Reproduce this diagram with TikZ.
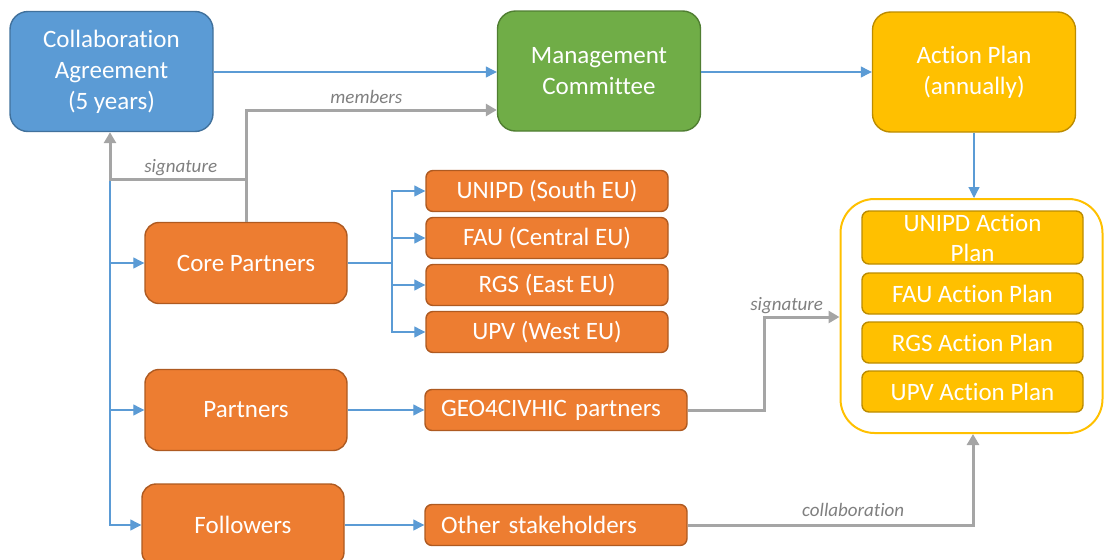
\documentclass[tikz,border=0pt]{standalone}
\usepackage{fontspec}
\setmainfont{Carlito}[Ligatures=NoCommon]
\usetikzlibrary{arrows.meta,calc}
\definecolor{cblue}{HTML}{5B9BD5}
\definecolor{cbluedark}{HTML}{41719C}
\definecolor{cgreen}{HTML}{70AD47}
\definecolor{cgreendark}{HTML}{507E32}
\definecolor{cyellow}{HTML}{FFC000}
\definecolor{cyellowdark}{HTML}{BC8C00}
\definecolor{corange}{HTML}{ED7D31}
\definecolor{corangedark}{HTML}{AE5A21}
\definecolor{cgray}{HTML}{A5A5A5}
\definecolor{clabel}{HTML}{7F7F7F}
\tikzset{
  box/.style={draw,line width=1.4pt,text=white,inner sep=0pt,align=center,
    font=\fontsize{25}{31}\selectfont},
  bigbox/.style={box,minimum width=203pt,minimum height=120pt,rounded corners=18pt},
  midbox/.style={box,minimum width=202pt,minimum height=81pt,rounded corners=14pt},
  subbox/.style={box,minimum width=242pt,minimum height=41pt,rounded corners=7pt},
  planbox/.style={box,minimum width=221pt,minimum height=41pt,rounded corners=7pt,
    fill=cyellow,draw=cyellowdark},
  bluefill/.style={fill=cblue,draw=cbluedark},
  greenfill/.style={fill=cgreen,draw=cgreendark},
  yellowfill/.style={fill=cyellow,draw=cyellowdark},
  orangefill/.style={fill=corange,draw=corangedark},
  link/.style={draw=cblue,line width=1.2pt,-{Triangle[length=11pt,width=11pt]}},
  flow/.style={draw=cgray,line width=3pt,-{Triangle[length=11pt,width=12pt]}},
  lbl/.style={text=clabel,font=\fontsize{19}{22}\selectfont\itshape,inner sep=2pt}
}
\begin{document}
\begin{tikzpicture}[x=1pt,y=-1pt,line cap=butt,line join=miter]
  \useasboundingbox (0,0) rectangle (1104,560);

  % top row
  \node[bigbox,bluefill] (CA) at (111.5,71.5) {Collaboration\\Agreement\\(5 years)};
  \node[bigbox,greenfill] (MC) at (599,71) {Management\\Committee};
  \node[bigbox,yellowfill] (AP) at (974,72) {Action Plan\\(annually)};

  % partner groups
  \node[midbox,orangefill] (core) at (246,263) {Core Partners};
  \node[midbox,orangefill] (partners) at (246,410) {Partners};
  \node[midbox,orangefill,minimum height=82pt] (followers) at (243,525) {Followers};

  \node[subbox,orangefill] (unipd) at (547,191) {UNIPD (South EU)};
  \node[subbox,orangefill] (fau) at (547,238) {FAU (Central EU)};
  \node[subbox,orangefill] (rgs) at (547,285) {RGS (East EU)};
  \node[subbox,orangefill] (upv) at (547,332) {UPV (West EU)};
  \node[subbox,orangefill,minimum width=262pt,text width=230pt,align=left] (geo) at (556,410) {GEO4CIVHIC partners};
  \node[subbox,orangefill,minimum width=262pt,text width=230pt,align=left] (other) at (556,525) {Other stakeholders};

  % action plans
  \node[draw=cyellow,line width=2pt,rounded corners=34pt,minimum width=262pt,minimum height=234pt] (plans) at (971.5,316) {};
  \node[planbox,minimum height=53pt,font=\fontsize{25}{30}\selectfont] (unipdplan) at (972.5,237.5) {UNIPD Action\\Plan};
  \node[planbox] (fauplan) at (972.5,293.5) {FAU Action Plan};
  \node[planbox] (rgsplan) at (972.5,342.5) {RGS Action Plan};
  \node[planbox] (upvplan) at (972.5,391.5) {UPV Action Plan};

  % blue links
  \draw[link] (CA.east |- 0,72) -- (MC.west |- 0,72);
  \draw[link] (MC.east |- 0,72) -- (AP.west |- 0,72);
  \draw[link] (AP.south) -- (AP.south |- plans.north);

  \coordinate (trunk) at (110,179);
  \draw[link] (trunk) |- (followers.west);
  \draw[link] (trunk |- core.west) -- (core.west);
  \draw[link] (trunk |- partners.west) -- (partners.west);

  \draw[draw=cblue,line width=1.2pt] (core.east) -- (392,263) coordinate (fork);
  \draw[link] (fork) |- (unipd.west);
  \draw[link] (fork) |- (upv.west);
  \draw[link] (fork |- fau.west) -- (fau.west);
  \draw[link] (fork |- rgs.west) -- (rgs.west);

  \draw[link] (partners.east) -- (geo.west);
  \draw[link] (followers.east) -- (other.west);

  % gray flows
  \draw[flow] (core.north) -- (core.north |- 0,110) -- (MC.west |- 0,110)
    node[lbl,pos=0.48,above=3pt] {members};
  \draw[flow] (core.north |- trunk) -- (trunk) node[lbl,pos=0.48,above] {signature}
    -- (trunk |- CA.south);
  \draw[flow] (geo.east) -| (764,317) -- (plans.west |- 0,317)
    node[lbl,pos=0.3,above] {signature};
  \draw[flow] (other.east) -| (plans.south -| 973,0)
    node[lbl,pos=0.29,above=5pt] {collaboration};
\end{tikzpicture}
\end{document}
